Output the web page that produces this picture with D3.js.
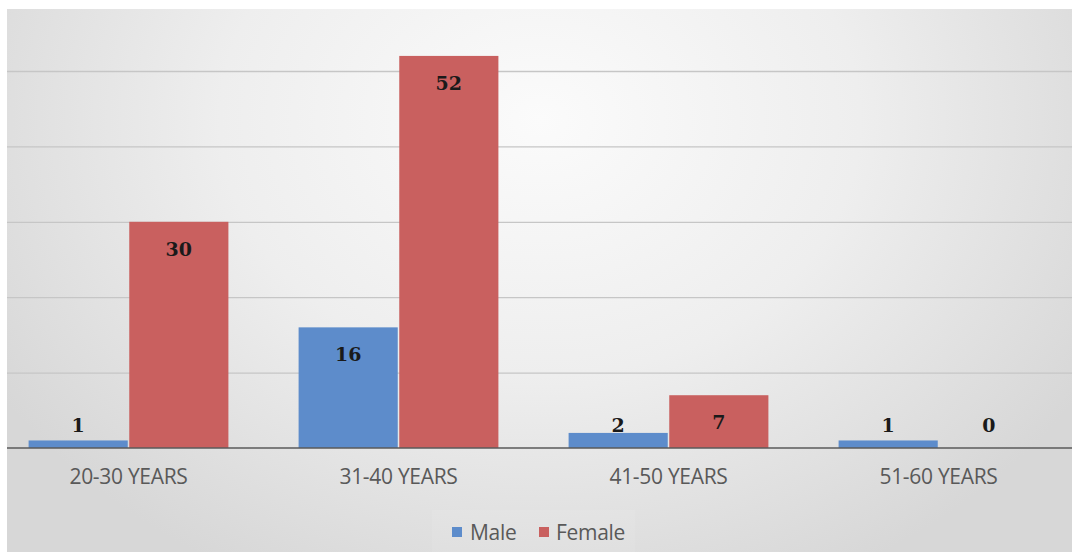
<!DOCTYPE html>
<html>
<head>
<meta charset="utf-8">
<script src="https://cdn.jsdelivr.net/npm/d3@7"></script>
<style>
  html, body { margin: 0; padding: 0; background: #ffffff; }
  svg { display: block; }
</style>
</head>
<body>
<svg id="chart" width="1072" height="552"></svg>
<script>
// Age groups and respondent counts by gender
const categories = ["20-30 YEARS", "31-40 YEARS", "41-50 YEARS", "51-60 YEARS"];
const seriesNames = ["Male", "Female"];
const maleValues = [1, 16, 2, 1];
const femaleValues = [30, 52, 7, 0];
const yTicks = [0, 10, 20, 30, 40, 50, 60];

const colors = { Male: "#5d8ccb", Female: "#c9605f" };

const W = 1072, H = 552;
const svg = d3.select("#chart");

// Chart area background: soft radial gradient, light around the top centre
const defs = svg.append("defs");
const grad = defs.append("radialGradient")
  .attr("id", "bg")
  .attr("gradientUnits", "userSpaceOnUse")
  .attr("cx", 540).attr("cy", 120).attr("r", 640)
  .attr("gradientTransform", "translate(540,120) scale(1,0.8) translate(-540,-120)");
grad.append("stop").attr("offset", "0%").attr("stop-color", "#fbfbfb");
grad.append("stop").attr("offset", "50%").attr("stop-color", "#eeeeee");
grad.append("stop").attr("offset", "100%").attr("stop-color", "#d7d7d7");

svg.append("rect")
  .attr("x", 7).attr("y", 9)
  .attr("width", W - 7).attr("height", H - 9)
  .attr("fill", "url(#bg)");

// Scales
const x0 = d3.scaleBand()
  .domain(categories)
  .range([-6.5, 1073.5])
  .paddingInner(0.26)
  .paddingOuter(0.13);

const x1 = d3.scaleBand()
  .domain(seriesNames)
  .range([0, x0.bandwidth()])
  .paddingInner(0.015);

const y = d3.scaleLinear()
  .domain([0, 60])
  .range([448, 448 - 60 * 7.54]);

// Horizontal gridlines across the plot
const grid = svg.append("g")
  .attr("transform", "translate(7,0)")
  .call(d3.axisLeft(y).tickValues(yTicks.filter(t => t > 0)).tickSize(-(W - 7)).tickFormat(""));
grid.select(".domain").remove();
grid.selectAll(".tick line")
  .attr("stroke", "#c6c6c6")
  .attr("stroke-width", 1.3);

// Bars
const rows = categories.map((c, i) => ({
  category: c,
  values: [
    { series: "Male", value: maleValues[i] },
    { series: "Female", value: femaleValues[i] }
  ]
}));

const groups = svg.append("g").selectAll("g")
  .data(rows)
  .join("g")
  .attr("transform", d => `translate(${x0(d.category)},0)`);

groups.selectAll("rect")
  .data(d => d.values)
  .join("rect")
  .attr("x", d => x1(d.series))
  .attr("y", d => y(d.value))
  .attr("width", x1.bandwidth())
  .attr("height", d => y(0) - y(d.value))
  .attr("fill", d => colors[d.series]);

// Value labels: inside the top of the bar, or just above short bars
groups.selectAll("text.value")
  .data(d => d.values)
  .join("text")
  .attr("class", "value")
  .attr("x", d => x1(d.series) + x1.bandwidth() / 2)
  .attr("y", d => Math.min(y(d.value) + 27, y(0) - 23))
  .attr("dy", "0.36em")
  .attr("text-anchor", "middle")
  .attr("font-family", "'DejaVu Serif', 'Liberation Serif', serif")
  .attr("font-weight", "bold")
  .attr("font-size", 19)
  .attr("fill", "#1a1a1a")
  .text(d => d.value);

// Category axis along the baseline
const xAxis = svg.append("g")
  .attr("transform", `translate(0,${y(0)})`)
  .call(d3.axisBottom(x0).tickSize(0).tickPadding(21));
xAxis.select(".domain")
  .attr("d", `M7,0H${W}`)
  .attr("stroke", "#5a5a5a")
  .attr("stroke-width", 1.5);
xAxis.selectAll("text")
  .attr("font-family", "'Open Sans', sans-serif")
  .attr("font-size", 21)
  .attr("fill", "#595959")
  .attr("letter-spacing", "-0.3px");

// Legend
const legend = svg.append("g");
legend.append("rect")
  .attr("x", 432).attr("y", 510)
  .attr("width", 203).attr("height", 42)
  .attr("fill", "#ffffff").attr("opacity", 0.08);

const legendItems = [
  { name: "Male", sx: 452, tx: 470 },
  { name: "Female", sx: 539, tx: 556 }
];
const li = legend.selectAll("g.item")
  .data(legendItems)
  .join("g")
  .attr("class", "item");
li.append("rect")
  .attr("x", d => d.sx).attr("y", 527)
  .attr("width", 10).attr("height", 10)
  .attr("fill", d => colors[d.name]);
li.append("text")
  .attr("x", d => d.tx).attr("y", 532)
  .attr("dy", "0.36em")
  .attr("font-family", "'Open Sans', sans-serif")
  .attr("font-size", 21)
  .attr("fill", "#595959")
  .attr("letter-spacing", "-0.3px")
  .text(d => d.name);
</script>
</body>
</html>
